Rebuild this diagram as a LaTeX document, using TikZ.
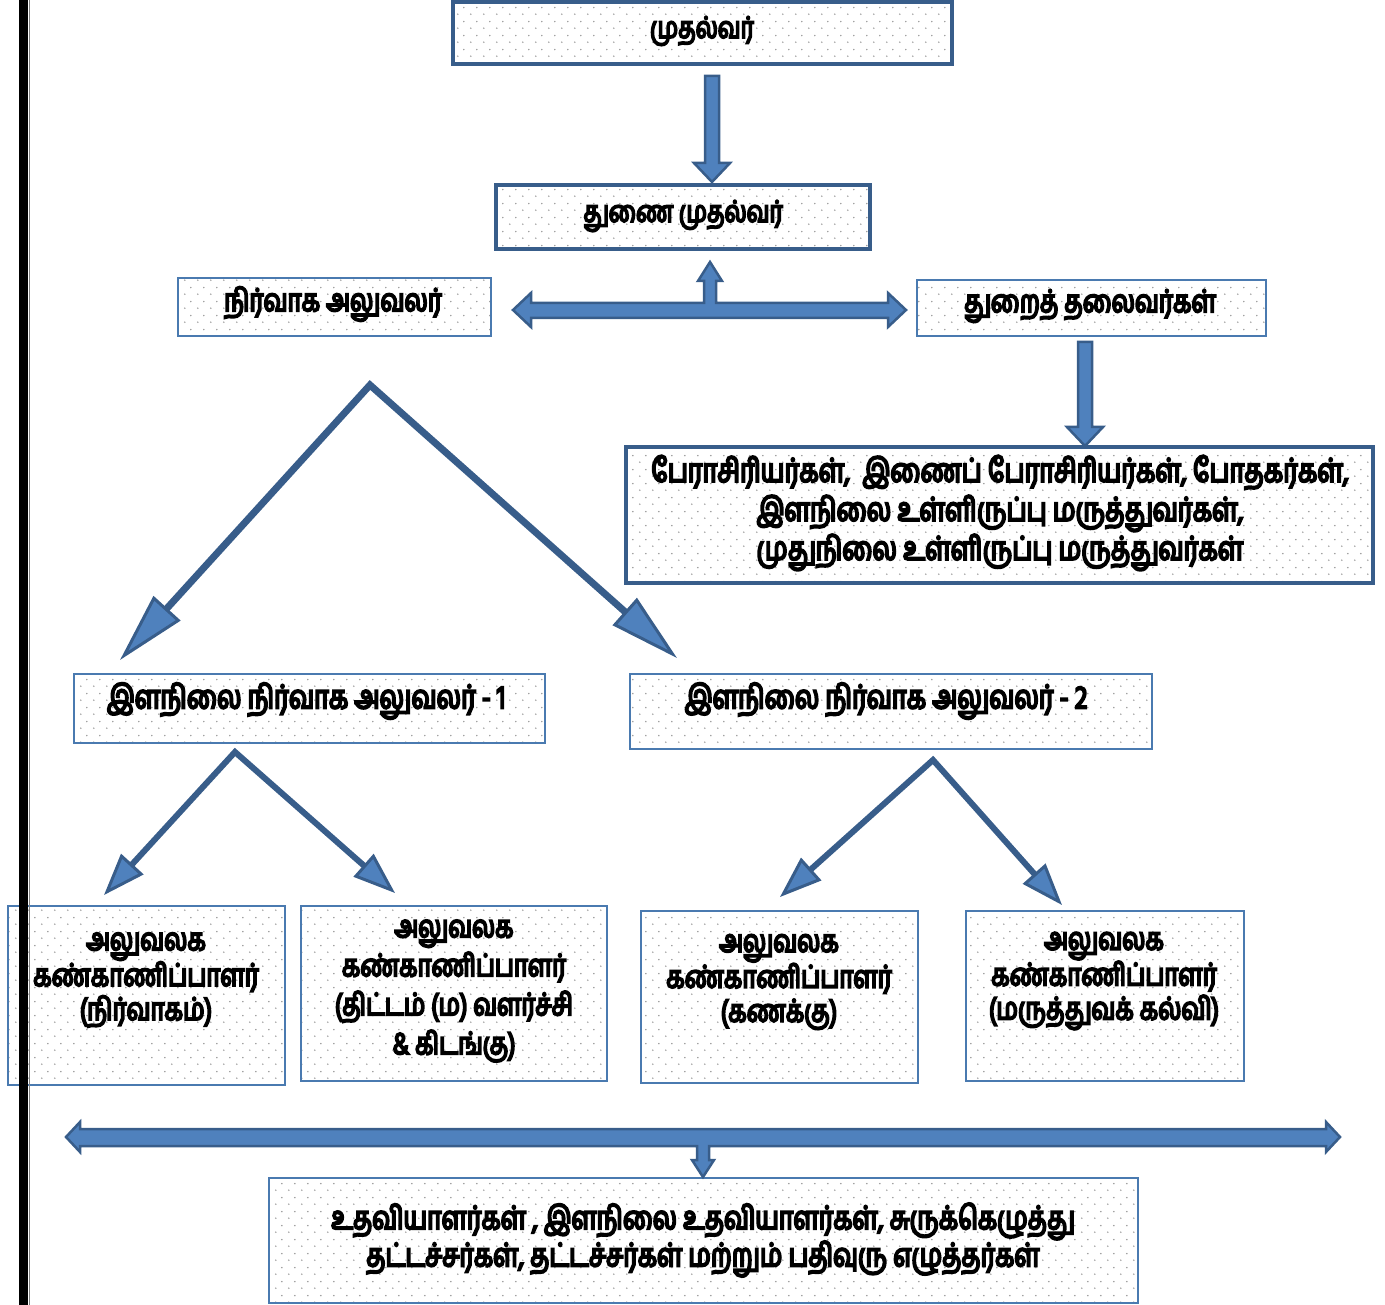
\documentclass[tikz,border=0pt]{standalone}
\usepackage{fontspec}
\newfontfamily\ta[Script=Tamil, FakeStretch=0.773, AutoFakeBold=6]{Hind Madurai}
\usetikzlibrary{arrows.meta,patterns.meta}
\definecolor{bdark}{HTML}{385D8A}
\definecolor{blight}{HTML}{4A7AB0}
\definecolor{afill}{HTML}{4F81BD}
\tikzdeclarepattern{
  name=bdots,
  type=uncolored,
  bounding box={(0pt,0pt) and (13pt,14pt)},
  tile size={(13pt,14pt)},
  code={\fill (3pt,3pt) circle (0.9pt); \fill (9.5pt,10pt) circle (0.9pt);}
}
\tikzset{
  boxbase/.style={rectangle, inner sep=0pt, preaction={fill=white}, pattern=bdots, pattern color=black!40},
  thickbox/.style={boxbase, draw=bdark, line width=3.5pt},
  thinbox/.style={boxbase, draw=blight, line width=2pt},
  txtA/.style={font=\ta\bfseries\fontsize{29.7}{38}\selectfont, align=center, inner sep=0pt},
  txtB/.style={font=\ta\bfseries\fontsize{31.3}{38}\selectfont, align=center, inner sep=0pt},
  txtC/.style={font=\ta\bfseries\fontsize{32.8}{39}\selectfont, align=center, inner sep=0pt},
  txtD/.style={font=\ta\bfseries\fontsize{31.2}{34}\selectfont, align=center, inner sep=0pt},
  txtE/.style={font=\ta\bfseries\fontsize{31}{39}\selectfont, align=center, inner sep=0pt},
  txtF/.style={font=\ta\bfseries\fontsize{32.4}{34}\selectfont, align=center, inner sep=0pt},
  blockarrow/.style={fill=afill, draw=bdark, line width=2.5pt, line join=miter},
  varrow/.style={draw=bdark, line width=7pt, line join=miter,
    {Triangle[length=70pt,width=36pt,fill=afill,line width=3pt]}-{Triangle[length=70pt,width=36pt,fill=afill,line width=3pt]}},
  vsarrow/.style={draw=bdark, line width=6pt, line join=miter,
    {Triangle[length=42pt,width=30pt,fill=afill,line width=3pt]}-{Triangle[length=42pt,width=30pt,fill=afill,line width=3pt]}},
}
\newcommand{\mkbox}[6]{\node[#1, minimum width={(#5-#3)*1pt}, minimum height={(#6-#4)*1pt}] (#2) at ({(#3+#5)/2},{(#4+#6)/2}) {};}
\begin{document}
\begin{tikzpicture}[x=1pt,y=-1pt]
\useasboundingbox (0,0) rectangle (1385,1305);
% boxes
\mkbox{thickbox}{b1}{453}{2}{952}{64}
\mkbox{thickbox}{b2}{496}{185}{870}{249}
\mkbox{thinbox}{b3}{178}{278}{491}{336}
\mkbox{thinbox}{b4}{917}{280}{1266}{336}
\mkbox{thickbox}{b5}{626}{447}{1373}{583}
\mkbox{thinbox}{b6}{74}{674}{545}{743}
\mkbox{thinbox}{b7}{630}{674}{1152}{749}
\mkbox{thinbox}{b8}{8}{906}{285}{1085}
\mkbox{thinbox}{b9}{301}{906}{607}{1081}
\mkbox{thinbox}{b10}{641}{911}{918}{1083}
\mkbox{thinbox}{b11}{966}{911}{1244}{1081}
\mkbox{thinbox}{b12}{269}{1178}{1138}{1303}
% texts
\node[txtA] (t1) at (702,31) {முதல்வர்};
\node[txtA] (t2) at (683,216) {துணை முதல்வர்};
\node[txtB] (t3) at (333,304) {நிர்வாக அலுவலர்};
\node[txtB] (t4) at (1090,306) {துறைத் தலைவர்கள்};
\node[txtC] (t5) at (1000,513) {பேராசிரியர்கள்,~~இணைப் பேராசிரியர்கள், போதகர்கள்,\\இளநிலை உள்ளிருப்பு மருத்துவர்கள்,\\முதுநிலை உள்ளிருப்பு மருத்துவர்கள்};
\node[txtC] (t6) at (306,701) {இளநிலை நிர்வாக அலுவலர் - 1};
\node[txtC] (t7) at (886,701) {இளநிலை நிர்வாக அலுவலர் - 2};
\node[txtD] (t8) at (146,980) {அலுவலக\\கண்காணிப்பாளர்\\(நிர்வாகம்)};
\node[txtE] (t9) at (454,991) {அலுவலக\\கண்காணிப்பாளர்\\(திட்டம் (ம) வளர்ச்சி\\\& கிடங்கு)};
\node[txtD] (t10) at (779,982) {அலுவலக\\கண்காணிப்பாளர்\\(கணக்கு)};
\node[txtD] (t11) at (1104,981) {அலுவலக\\கண்காணிப்பாளர்\\(மருத்துவக் கல்வி)};
\node[txtF] (t12) at (703,1240) {உதவியாளர்கள் , இளநிலை உதவியாளர்கள், சுருக்கெழுத்து\\தட்டச்சர்கள், தட்டச்சர்கள் மற்றும் பதிவுரு எழுத்தர்கள்};
% block arrow b1 -> b2
\draw[blockarrow] (705,76) -- (719,76) -- (719,163) -- (730,163) -- (712,182) -- (694,163) -- (705,163) -- cycle;
% T arrow between b3, b2, b4
\draw[blockarrow] (513,310) -- (531,293) -- (531,303) -- (704,303) -- (704,281) -- (698,281) -- (710,262) -- (722,281) -- (716,281) -- (716,303) -- (888,303) -- (888,293) -- (906,310) -- (888,327) -- (888,318) -- (531,318) -- (531,327) -- cycle;
% block arrow b4 -> b5
\draw[blockarrow] (1078,342) -- (1092,342) -- (1092,427) -- (1103,427) -- (1085,446) -- (1067,427) -- (1078,427) -- cycle;
% V arrows
\coordinate (va) at (370,385);
\coordinate (vl) at (120,660);
\coordinate (vr) at (677,658);
\draw[varrow] (vl) -- (va) -- (vr);
\coordinate (sa) at (235,752);
\coordinate (sl) at (104,895);
\coordinate (sr) at (395,893);
\draw[vsarrow] (sl) -- (sa) -- (sr);
\coordinate (ra) at (933,760);
\coordinate (rl) at (780,897);
\coordinate (rr) at (1062,905);
\draw[vsarrow] (rl) -- (ra) -- (rr);
% bottom T arrow
\draw[blockarrow] (66,1137) -- (80,1122) -- (80,1129) -- (1326,1129) -- (1326,1122) -- (1340,1137) -- (1326,1152) -- (1326,1146) -- (709,1146) -- (709,1160) -- (714,1160) -- (703,1177) -- (692,1160) -- (697,1160) -- (697,1146) -- (80,1146) -- (80,1152) -- cycle;
% left rule
\fill[black] (19,0) rectangle (27.5,1305);
\draw[black!50, line width=0.8pt] (29.3,0) -- (29.3,1305);
\end{tikzpicture}
\end{document}
